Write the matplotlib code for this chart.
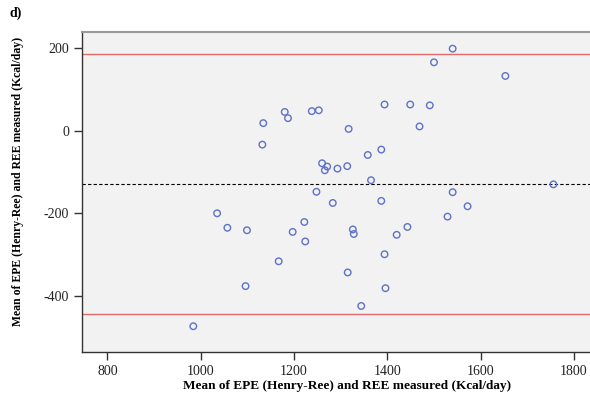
import matplotlib
matplotlib.use("Agg")
import matplotlib.pyplot as plt
import numpy as np

# Bland-Altman style data
mean_vals = [984, 1035, 1057, 1099, 1096, 1134, 1132, 1167, 1180, 1187,
             1197, 1222, 1224, 1238, 1253, 1248, 1260, 1266, 1271, 1283,
             1293, 1314, 1317, 1315, 1326, 1328, 1344, 1358, 1365, 1387,
             1387, 1394, 1394, 1396, 1420, 1443, 1449, 1469, 1491, 1500,
             1529, 1540, 1540, 1572, 1653, 1756]
diff_vals = [-473, -200, -235, -241, -376, 18, -34, -316, 45, 30,
             -245, -221, -268, 47, 49, -148, -79, -96, -87, -175,
             -92, -86, 4, -343, -239, -250, -424, -59, -120, -46,
             -170, 63, -299, -381, -252, -233, 63, 10, 61, 165,
             -208, 198, -149, -183, 132, -130]

mean_diff = -130
upper_loa = 184
lower_loa = -444

xticks = [800, 1000, 1200, 1400, 1600, 1800]
yticks = [-400, -200, 0, 200]
label = "Mean of EPE (Henry-Ree) and REE measured (Kcal/day)"

plt.rcParams['font.family'] = ['Liberation Serif', 'DejaVu Serif']
plt.rcParams['axes.unicode_minus'] = False

fig = plt.figure(figsize=(5.9, 3.94), dpi=100)
ax = fig.add_axes([82.3 / 590, 1 - 352.3 / 394, 1 - 82.3 / 590 + 0.002, (352.3 - 31.7) / 394])
ax.set_facecolor("#f2f2f2")

ax.axhline(upper_loa, color="#e06a6a", lw=1.0)
ax.axhline(lower_loa, color="#e06a6a", lw=1.0)
ax.axhline(mean_diff, color="black", lw=0.8, ls=(0, (3, 2)))

ax.scatter(mean_vals, diff_vals, s=22, facecolors="none", edgecolors="#5d72c8",
           linewidths=1.0, zorder=3)

ax.set_xlim(746, 1837)
ax.set_ylim(-536, 239)
ax.set_xticks(xticks)
ax.set_yticks(yticks)
ax.tick_params(axis="both", direction="out", length=6, width=1,
               color="#333333", labelsize=10, labelcolor="#222222")

for s in ("left", "bottom"):
    ax.spines[s].set_color("#333333")
    ax.spines[s].set_linewidth(1.0)
ax.spines["top"].set_color("#999999")
ax.spines["top"].set_linewidth(1.5)
ax.spines["right"].set_visible(False)

fig.text(10 / 590, 1 - 13 / 394, "d)", fontsize=10, fontweight="bold", va="center")
fig.text(347 / 590, 1 - 386 / 394, label, fontsize=9.5, fontweight="bold",
         ha="center", va="center")
fig.text(18 / 590, 1 - 181 / 394, label, fontsize=8.5, fontweight="bold",
         ha="center", va="center", rotation=90)

fig.savefig("out.png", dpi=100)
